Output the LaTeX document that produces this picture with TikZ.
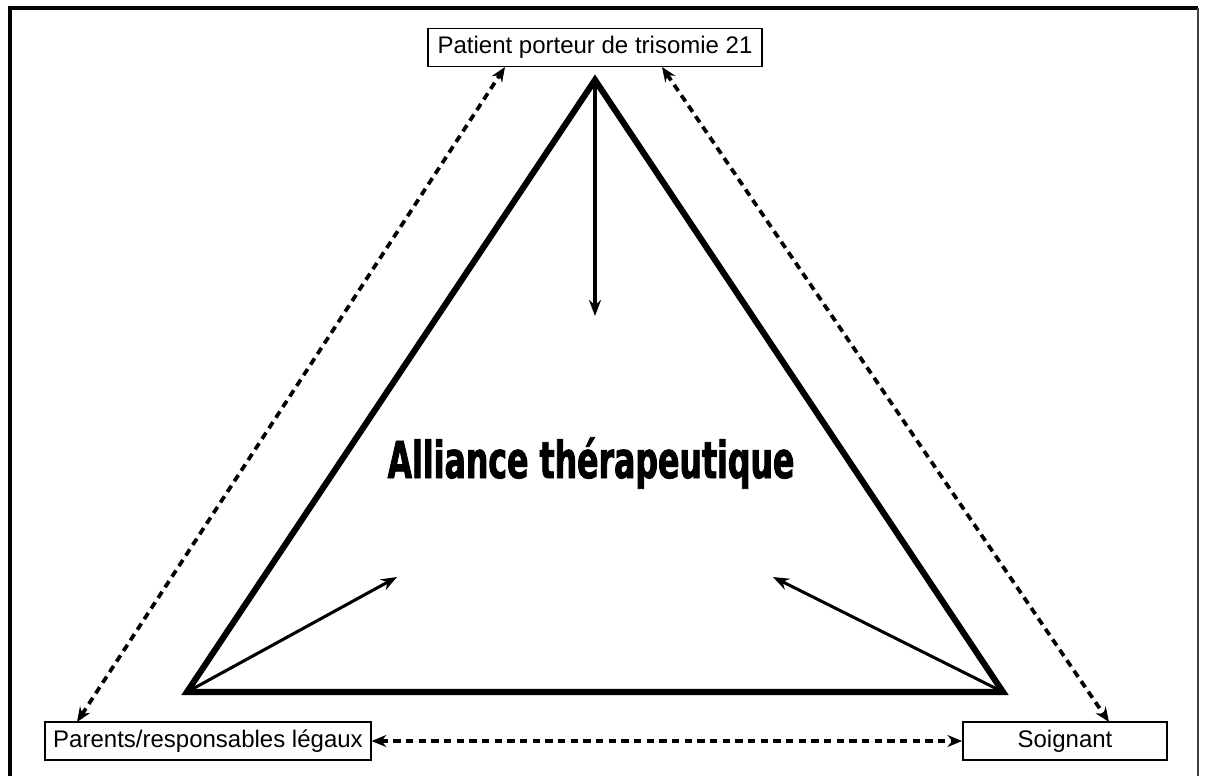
\documentclass[tikz,border=0pt]{standalone}
\usepackage{fontspec}
\setmainfont{Liberation Sans}
\newfontfamily\heavyfont[FakeStretch=0.62, BoldFeatures={FakeBold=1.6}]{DejaVu Sans}
\usetikzlibrary{arrows.meta}
\tikzset{
  label box/.style={draw, line width=1.4pt, inner sep=0pt, minimum height=28.5pt, font=\fontsize{18pt}{20pt}\selectfont},
  side/.style={line width=4.6pt, line join=miter},
  push/.style={line width=2.3pt, -{Stealth[length=12pt,width=9pt]}},
  link/.style={line width=2.8pt, dash pattern=on 5.5pt off 4pt, {Stealth[length=11pt,width=9pt]}-{Stealth[length=11pt,width=9pt]}},
}
\begin{document}
\begin{tikzpicture}[x=0.75pt, y=-0.75pt]
\useasboundingbox (0,0) rectangle (1206,776);
% outer frame, open at the bottom
\draw[line width=3pt] (10,776) -- (10,8) -- (1198,8);
\draw[line width=1.8pt, black!75] (1198,8) -- (1198,776);

% corner boxes
\node[label box, minimum width=250pt] (pat) at (595,47.5) {Patient porteur de trisomie 21};
\node[label box, minimum width=244pt] (par) at (208,741) {Parents/responsables légaux};
\node[label box, minimum width=153pt] (soi) at (1065,741) {Soignant};

% triangle of the alliance
\coordinate (top) at (595,80);
\coordinate (bl) at (187,692);
\coordinate (br) at (1003,692);
\draw[side] (top) -- (bl) -- (br) -- cycle;

\node (title) at (591,463) {\resizebox{305pt}{!}{\heavyfont\bfseries Alliance thérapeutique}};

% arrows from each vertex towards the centre
\coordinate (tA) at (595,316);
\coordinate (lA) at (397,577);
\coordinate (rA) at (773,577);
\draw[push] (top) -- (tA);
\draw[push] (bl) -- (lA);
\draw[push] (br) -- (rA);

% dashed links between the three partners
\coordinate (p1) at (505,67);
\coordinate (p2) at (662,67);
\coordinate (a1) at (77,722);
\coordinate (s1) at (1109,722);
\draw[link] (a1) -- (p1);
\draw[link] (p2) -- (s1);
\draw[link] (par.east) -- (soi.west);
\end{tikzpicture}
\end{document}
